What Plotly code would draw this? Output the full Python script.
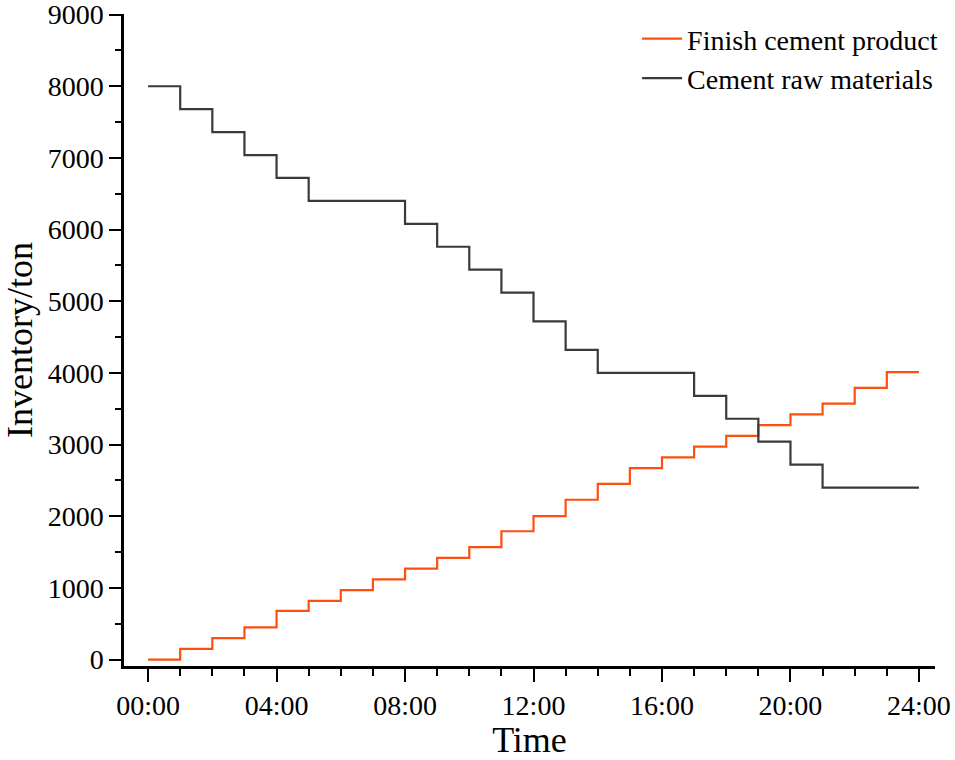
import plotly.graph_objects as go

hours = list(range(25))
finish_product = [0, 150, 300, 450, 680, 820, 970, 1120, 1270, 1420, 1570, 1790,
                  2000, 2230, 2450, 2670, 2820, 2970, 3120, 3270, 3420, 3570, 3790, 4010, 4010]
raw_materials = [8000, 7680, 7360, 7040, 6720, 6400, 6400, 6400, 6080, 5760, 5440, 5120,
                 4720, 4320, 4000, 4000, 4000, 3680, 3360, 3040, 2720, 2400, 2400, 2400, 2400]
x_tickvals = [0, 4, 8, 12, 16, 20, 24]
x_ticktext = ["00:00", "04:00", "08:00", "12:00", "16:00", "20:00", "24:00"]
y_tickvals = [0, 1000, 2000, 3000, 4000, 5000, 6000, 7000, 8000, 9000]

FONT = "Liberation Serif, Times New Roman, serif"

fig = go.Figure()
fig.add_trace(go.Scatter(x=hours, y=finish_product, mode="lines", line_shape="hv",
                         name="Finish cement product",
                         line=dict(color="#FF4F0F", width=2.2)))
fig.add_trace(go.Scatter(x=hours, y=raw_materials, mode="lines", line_shape="hv",
                         name="Cement raw materials",
                         line=dict(color="#3A3A3A", width=2.2)))

fig.update_layout(
    width=955, height=760,
    margin=dict(l=124, r=20, t=14, b=94, autoexpand=False),
    paper_bgcolor="white", plot_bgcolor="white",
    font=dict(family=FONT, size=28, color="black"),
    showlegend=True,
    legend=dict(x=1.01, y=1.0, xanchor="right", yanchor="top",
                bgcolor="rgba(0,0,0,0)", font=dict(family=FONT, size=28),
                tracegroupgap=0, itemwidth=40),
    xaxis=dict(
        range=[-0.75, 24.5], showgrid=False, zeroline=False, automargin=False,
        showline=True, linecolor="black", linewidth=2.5,
        ticks="outside", ticklen=13, tickwidth=2, tickcolor="black",
        tickmode="array", tickvals=x_tickvals, ticktext=x_ticktext,
        tickfont=dict(family=FONT, size=28), ticklabeloverflow="allow",
        minor=dict(tickmode="array", tickvals=hours, ticks="outside",
                   ticklen=7, tickwidth=2, tickcolor="black"),
        title=dict(text="Time", font=dict(family=FONT, size=36), standoff=14),
    ),
    yaxis=dict(
        range=[-90, 9008], showgrid=False, zeroline=False, automargin=False,
        showline=True, linecolor="black", linewidth=2.5,
        ticks="outside", ticklen=12, tickwidth=2, tickcolor="black",
        tickmode="array", tickvals=y_tickvals,
        tickfont=dict(family=FONT, size=28), ticklabeloverflow="allow",
        minor=dict(tickmode="linear", tick0=500, dtick=1000, ticks="outside",
                   ticklen=6, tickwidth=2, tickcolor="black"),
        title=dict(text="Inventory/ton", font=dict(family=FONT, size=36), standoff=11),
    ),
)

fig.write_html("out.html", config={"displayModeBar": False},
               post_script="document.body.style.margin='0';document.body.style.overflow='hidden';")
